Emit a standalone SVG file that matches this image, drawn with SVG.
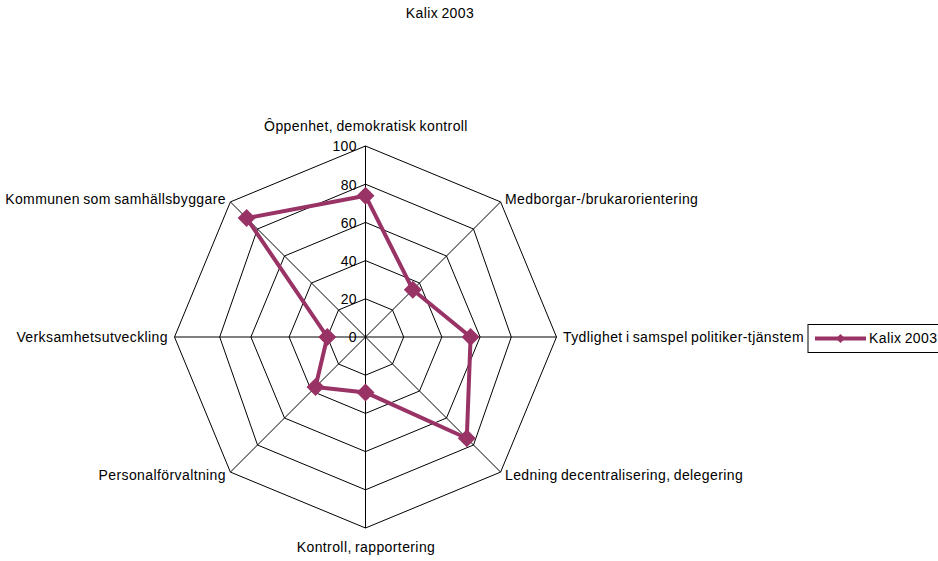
<svg xmlns="http://www.w3.org/2000/svg" width="938" height="561" viewBox="0 0 938 561">
<style>
text{font-family:"Liberation Sans",Arial,sans-serif;font-size:14px;letter-spacing:0.4px;word-spacing:-1px;fill:#000}
.grid{fill:none;stroke:#000;stroke-width:1}
.series{fill:none;stroke:#993366;stroke-width:4;stroke-linejoin:round}
.mk{fill:#993366}
</style>
<defs>
<path id="dm" d="M0,-9 L9,0 L0,9 L-9,0 Z"/>
</defs>
<rect width="938" height="561" fill="#fff"/>
<text x="440" y="18" text-anchor="middle">Kalix 2003</text>
<g id="grid">
<polygon class="grid" points="365.5,146 500.6,201.9 556.5,337 500.6,472.1 365.5,528 230.4,472.1 174.5,337 230.4,201.9"/>
<polygon class="grid" points="365.5,184.2 473.5,229 511.3,337 473.5,445 365.5,489.8 257.5,445 219.7,337 257.5,229"/>
<polygon class="grid" points="365.5,222.4 446.5,256 480.1,337 446.5,418 365.5,451.6 284.5,418 250.9,337 284.5,256"/>
<polygon class="grid" points="365.5,260.6 419.5,283 441.9,337 419.5,391 365.5,413.4 311.5,391 289.1,337 311.5,283"/>
<polygon class="grid" points="365.5,298.8 392.5,310 403.7,337 392.5,364 365.5,375.2 338.5,364 327.3,337 338.5,310"/>
<path class="grid" d="M365.5,337V146M365.5,337L500.6,201.9M365.5,337H556.5M365.5,337L500.6,472.1M365.5,337V528M365.5,337L230.4,472.1M365.5,337H174.5M365.5,337L230.4,201.9"/>
</g>
<g id="ticks">
<text x="357" y="151" text-anchor="end">100</text>
<text x="357" y="190" text-anchor="end">80</text>
<text x="357" y="228" text-anchor="end">60</text>
<text x="357" y="266" text-anchor="end">40</text>
<text x="357" y="304" text-anchor="end">20</text>
<text x="357" y="342" text-anchor="end">0</text>
</g>
<g id="labels">
<text x="366" y="131" text-anchor="middle">Ôppenhet, demokratisk kontroll</text>
<text x="505" y="204">Medborgar-/brukarorientering</text>
<text x="563" y="342">Tydlighet i samspel politiker-tjänstem</text>
<text x="505" y="480">Ledning decentralisering, delegering</text>
<text x="366" y="552" text-anchor="middle">Kontroll, rapportering</text>
<text x="226" y="480" text-anchor="end">Personalförvaltning</text>
<text x="168" y="342" text-anchor="end">Verksamhetsutveckling</text>
<text x="226" y="204" text-anchor="end">Kommunen som samhällsbyggare</text>
</g>
<g id="series">
<polygon class="series" points="365.5,195.7 412.8,289.7 470.6,337 466.8,438.3 365.5,392.4 315.5,387 327.3,337 246.6,218.1"/>
<g class="mk">
<use href="#dm" x="365.5" y="195.7"/>
<use href="#dm" x="412.8" y="289.7"/>
<use href="#dm" x="470.6" y="337"/>
<use href="#dm" x="466.8" y="438.3"/>
<use href="#dm" x="365.5" y="392.4"/>
<use href="#dm" x="315.5" y="387"/>
<use href="#dm" x="327.3" y="337"/>
<use href="#dm" x="246.6" y="218.1"/>
</g>
</g>
<g id="legend">
<rect x="808" y="324.5" width="140" height="28" fill="#fff" stroke="#000" stroke-width="1"/>
<line x1="815" y1="338.5" x2="866" y2="338.5" stroke="#993366" stroke-width="4"/>
<path d="M840.5,334 L845,338.5 L840.5,343 L836,338.5 Z" fill="#993366"/>
<text x="869" y="343">Kalix 2003</text>
</g>
</svg>
